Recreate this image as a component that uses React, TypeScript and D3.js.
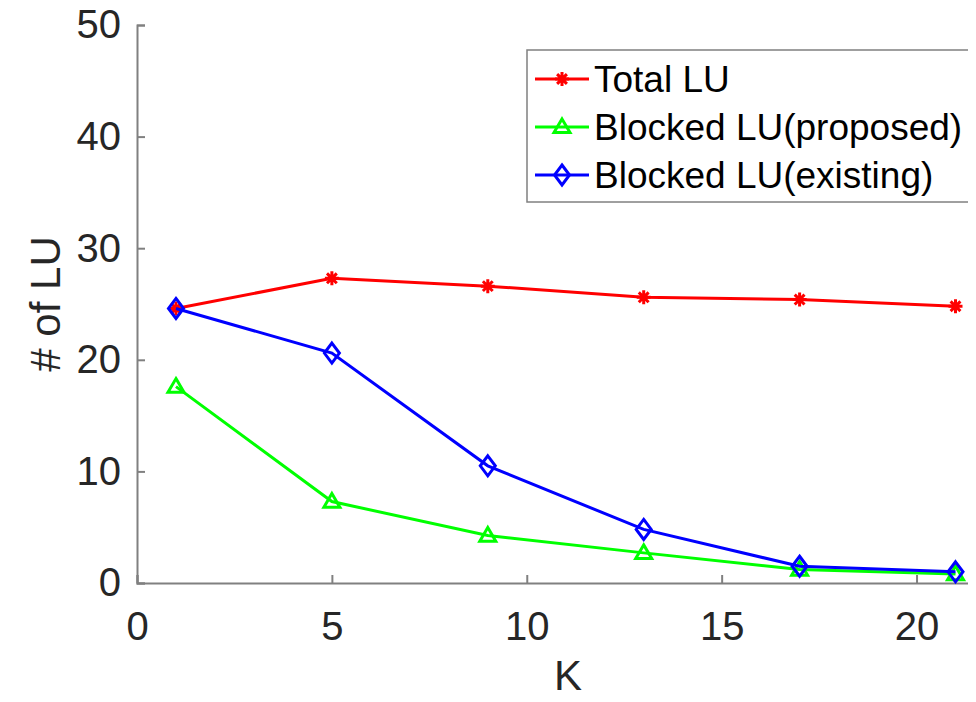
import * as d3 from "d3";
import { useRef, useEffect } from "react";

const kValues = [1, 5, 9, 13, 17, 21];
const totalLU = [24.6, 27.3, 26.6, 25.6, 25.4, 24.8];
const blockedProposed = [17.6, 7.3, 4.25, 2.7, 1.2, 0.8];
const blockedExisting = [24.6, 20.6, 10.5, 4.8, 1.5, 1.0];
const xTicks = [0, 5, 10, 15, 20];
const yTicks = [0, 10, 20, 30, 40, 50];

const series = [
  { name: "Total LU", values: totalLU, color: "#ff0000", marker: "star" },
  { name: "Blocked LU(proposed)", values: blockedProposed, color: "#00ff00", marker: "triangle" },
  { name: "Blocked LU(existing)", values: blockedExisting, color: "#0000ff", marker: "diamond" }
];

const width = 976;
const height = 702;
const marginLeft = 137;
const marginRight = 1;
const marginTop = 25;
const marginBottom = 119;
const font = "'Liberation Sans', Arial, sans-serif";

function drawMarker(g, type, x, y, color) {
  if (type === "star") {
    const r = 7;
    const p = d3.path();
    p.moveTo(x - r, y); p.lineTo(x + r, y);
    p.moveTo(x, y - r); p.lineTo(x, y + r);
    p.moveTo(x - r * 0.7, y - r * 0.7); p.lineTo(x + r * 0.7, y + r * 0.7);
    p.moveTo(x - r * 0.7, y + r * 0.7); p.lineTo(x + r * 0.7, y - r * 0.7);
    g.append("path").attr("d", p.toString()).attr("stroke", color).attr("stroke-width", 3).attr("fill", "none");
  } else if (type === "triangle") {
    const r = 8;
    g.append("path")
      .attr("d", `M${x},${y - r}L${x + r},${y + r * 0.7}L${x - r},${y + r * 0.7}Z`)
      .attr("stroke", color).attr("stroke-width", 3).attr("fill", "none");
  } else {
    const rx = 7.5, ry = 10;
    g.append("path")
      .attr("d", `M${x},${y - ry}L${x + rx},${y}L${x},${y + ry}L${x - rx},${y}Z`)
      .attr("stroke", color).attr("stroke-width", 3).attr("fill", "none");
  }
}

export default function App() {
  const svgRef = useRef(null);

  useEffect(() => {
    const svg = d3.select(svgRef.current);
    svg.selectAll("*").remove();

    const x = d3.scaleLinear().domain([0, 21.5]).range([marginLeft, width - marginRight]);
    const y = d3.scaleLinear().domain([0, 50]).range([height - marginBottom, marginTop]);

    const axisColor = "#808080";
    const textColor = "#262626";

    // axes (left and bottom only, inward ticks)
    const xAxis = svg.append("g").attr("transform", `translate(0,${y(0)})`)
      .call(d3.axisBottom(x).tickValues(xTicks).tickSize(-8).tickPadding(29).tickFormat(d3.format("d")));
    const yAxis = svg.append("g").attr("transform", `translate(${x(0)},0)`)
      .call(d3.axisLeft(y).tickValues(yTicks).tickSize(-8).tickPadding(16).tickFormat(d3.format("d")));
    [xAxis, yAxis].forEach((a) => {
      a.select(".domain").attr("stroke", axisColor).attr("stroke-width", 2);
      a.selectAll(".tick line").attr("stroke", axisColor).attr("stroke-width", 2);
      a.selectAll(".tick text").attr("fill", textColor).attr("font-size", 40).attr("font-family", font);
    });

    // axis labels
    svg.append("text").attr("x", 568).attr("y", 690)
      .attr("text-anchor", "middle").attr("font-size", 42).attr("font-family", font)
      .attr("fill", textColor).text("K");
    svg.append("text").attr("transform", `translate(60,${y(25)}) rotate(-90)`)
      .attr("text-anchor", "middle").attr("font-size", 42).attr("font-family", font)
      .attr("fill", textColor).text("# of LU");

    const line = d3.line().x((d, i) => x(kValues[i])).y((d) => y(d));

    series.forEach((s) => {
      const g = svg.append("g");
      g.append("path").attr("d", line(s.values)).attr("fill", "none")
        .attr("stroke", s.color).attr("stroke-width", 3);
      s.values.forEach((v, i) => drawMarker(g, s.marker, x(kValues[i]), y(v), s.color));
    });

    // legend
    const lg = svg.append("g");
    lg.append("rect").attr("x", 527).attr("y", 50).attr("width", 444).attr("height", 152)
      .attr("fill", "white").attr("stroke", "#808080").attr("stroke-width", 1.5);
    series.forEach((s, i) => {
      const cy = 79 + i * 48;
      lg.append("line").attr("x1", 535).attr("x2", 589).attr("y1", cy).attr("y2", cy)
        .attr("stroke", s.color).attr("stroke-width", 3);
      drawMarker(lg, s.marker, 562, cy, s.color);
      lg.append("text").attr("x", 594).attr("y", cy).attr("dy", "0.35em")
        .attr("font-size", 37).attr("font-family", font).attr("fill", "#000").text(s.name);
    });
  }, []);

  return <svg ref={svgRef} width={width} height={height} style={{ display: "block", margin: -8, background: "white" }} />;
}
